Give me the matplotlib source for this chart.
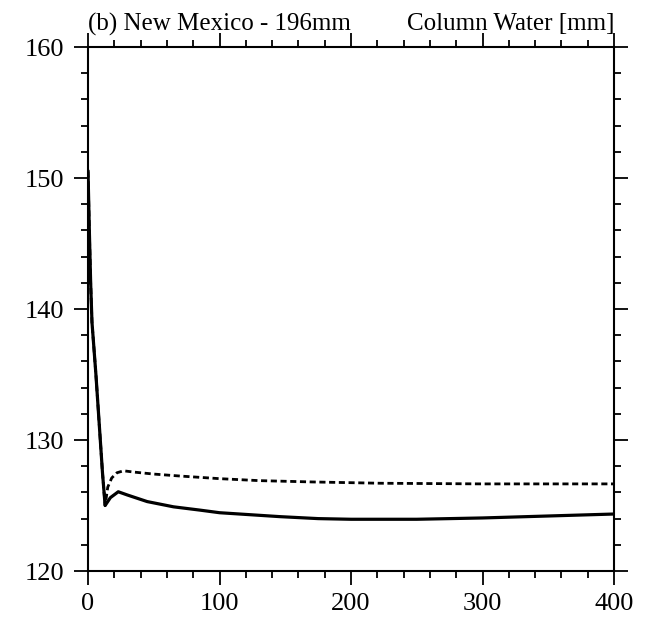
import matplotlib
matplotlib.use("Agg")
import matplotlib.pyplot as plt
from matplotlib.ticker import MultipleLocator

# Column water [mm] vs time (days), two experiments
t_solid = [0, 1, 2, 3, 6, 9, 11, 13, 17, 23, 30, 45, 65, 85, 100, 123,
           146, 175, 200, 222, 250, 300, 350, 400]
cw_solid = [150.5, 146.0, 142.0, 139.0, 135.0, 130.5, 127.5, 125.0, 125.6,
            126.05, 125.8, 125.3, 124.9, 124.65, 124.45, 124.3, 124.15,
            124.0, 123.95, 123.95, 123.95, 124.05, 124.2, 124.35]

t_dash = [0, 1, 2, 3, 6, 9, 11, 13, 15, 18, 22, 27, 35, 50, 70, 100, 130,
          170, 222, 300, 400]
cw_dash = [150.5, 146.0, 142.0, 139.0, 135.0, 130.5, 127.5, 125.0, 126.4,
           127.1, 127.5, 127.65, 127.55, 127.4, 127.25, 127.05, 126.9,
           126.8, 126.7, 126.65, 126.65]

plt.rcParams["font.family"] = "Liberation Serif"

fig = plt.figure(figsize=(6.53, 6.27), dpi=100)
ax = fig.add_axes([0.1348, 0.0893, 0.8055, 0.8357])

ax.plot(t_dash, cw_dash, color="black", lw=2.0, linestyle=(0, (2.2, 1.3)))
ax.plot(t_solid, cw_solid, color="black", lw=2.3)

ax.set_xlim(0, 400)
ax.set_ylim(120, 160)
ax.xaxis.set_major_locator(MultipleLocator(100))
ax.xaxis.set_minor_locator(MultipleLocator(20))
ax.yaxis.set_major_locator(MultipleLocator(10))
ax.yaxis.set_minor_locator(MultipleLocator(2))

for s in ax.spines.values():
    s.set_linewidth(1.5)
ax.tick_params(which="both", direction="out", top=True, right=True,
               labeltop=False, labelright=False, width=1.3)
ax.tick_params(which="major", length=10, labelsize=19)
ax.tick_params(which="minor", length=5)
ax.tick_params(axis="x", which="major", pad=6)
ax.tick_params(axis="y", which="major", pad=7)

ax.set_title("(b) New Mexico - 196mm", loc="left", fontsize=18, pad=12)
ax.set_title("Column Water [mm]", loc="right", fontsize=18, pad=12)

fig.savefig("out.png", dpi=100)
